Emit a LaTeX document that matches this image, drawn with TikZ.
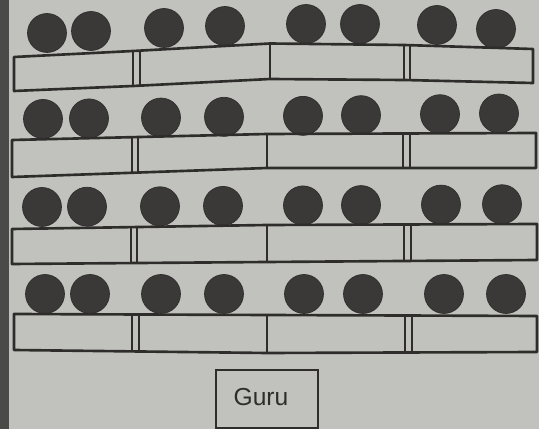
\documentclass[tikz,border=0pt]{standalone}
\usepackage{fontspec}
\setmainfont{Liberation Sans}
\begin{document}
\begin{tikzpicture}[x=0.02cm,y=-0.02cm,
  seat/.style={circle,fill=seatc,draw=seatc!80!black,inner sep=0pt,minimum size=0.78cm},
  desk/.style={draw=linec,line width=1.5pt,line join=round},
  divider/.style={draw=linec,line width=1.5pt},
  gurubox/.style={draw=linec,line width=1.5pt,minimum width=2.04cm,minimum height=1.16cm},
  gurutext/.style={font=\fontsize{14}{16}\selectfont,text=linec,inner sep=0pt}]
\definecolor{bgc}{HTML}{C1C2BE}
\definecolor{seatc}{HTML}{3B3937}
\definecolor{linec}{HTML}{2E2D2B}
\definecolor{edgec}{HTML}{4A4A48}
\useasboundingbox (0,0) rectangle (539,429);
\fill[bgc] (0,0) rectangle (539,429);
\fill[edgec] (0,0) rectangle (9,429);
% row 1
\foreach \i/\x/\y in {1/47/33,2/91/31,3/164/28,4/225/26,5/306/24,6/360/24,7/437/25,8/496/29}
  \node[seat] (sa\i) at (\x,\y) {};
\draw[desk] (14,57) -- (133,51) -- (270,43.5) -- (404,45) -- (533,49) -- (533,83) -- (404,80) -- (270,79) -- (133,86) -- (14,91) -- cycle;
\draw[divider] (133,51) -- (133,86) (140,50.5) -- (140,85.5) (270,43.5) -- (270,79) (404,45) -- (404,80) (410,45.2) -- (410,80.1);
% row 2
\foreach \i/\x in {1/43,2/89,3/161,4/224,5/303,6/361,7/440,8/499}
  \node[seat] (sb\i) at (\x,{119-(\x-40)*0.012}) {};
\draw[desk] (12,140) -- (267,134) -- (536,133) -- (536,168) -- (267,168) -- (12,177) -- cycle;
\draw[divider] (132,137.2) -- (132,174.2) (138,137) -- (138,174) (267,134) -- (267,168) (403,133.5) -- (403,168) (410,133.5) -- (410,168);
% row 3
\foreach \i/\x in {1/42,2/87,3/160,4/223,5/303,6/361,7/441,8/502}
  \node[seat] (sc\i) at (\x,{207-(\x-40)*0.006}) {};
\draw[desk] (12,229) -- (267,225) -- (537,224) -- (537,260) -- (267,262) -- (12,264) -- cycle;
\draw[divider] (131,227) -- (131,263) (137,227) -- (137,263) (267,225) -- (267,262) (404,224.5) -- (404,261) (411,224.5) -- (411,261);
% row 4
\foreach \i/\x in {1/45,2/90,3/161,4/224,5/304,6/363,7/444,8/506}
  \node[seat] (sd\i) at (\x,294) {};
\draw[desk] (14,314) -- (267,315) -- (537,316) -- (537,352) -- (267,353) -- (14,350) -- cycle;
\draw[divider] (132,314.5) -- (132,351.5) (139,314.5) -- (139,351.5) (267,315) -- (267,353) (405,315.5) -- (405,352.5) (412,315.5) -- (412,352.5);
% teacher
\node[gurubox] (guru) at (267,399) {};
\node[gurutext] (gurulabel) at ([xshift=-0.12cm,yshift=0.03cm]guru.center) {Guru};
\end{tikzpicture}
\end{document}
